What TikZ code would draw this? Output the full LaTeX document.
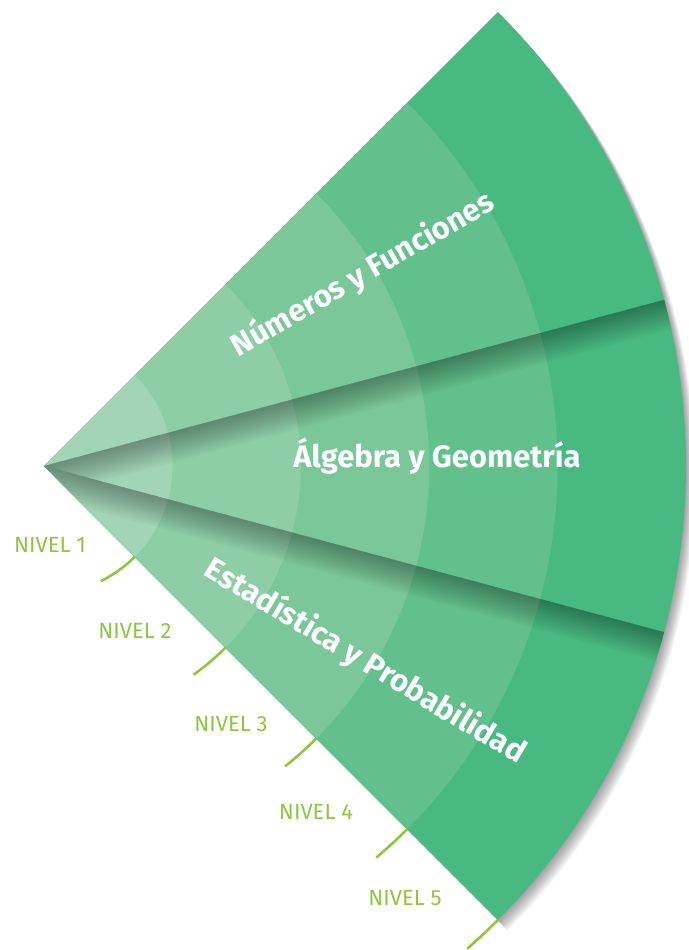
\documentclass[tikz,border=0pt]{standalone}
\usepackage{fontspec}
\setmainfont{Fira Sans}
\definecolor{ringA}{HTML}{A2D5B6}
\definecolor{ringB}{HTML}{8ECEA7}
\definecolor{ringC}{HTML}{7AC79A}
\definecolor{ringD}{HTML}{62C08C}
\definecolor{ringE}{HTML}{48BA81}
\definecolor{nivelgreen}{HTML}{8DC63F}
\begin{document}
\begin{tikzpicture}[x=1pt,y=1pt,line join=round,
    area/.style={text=white,font=\bfseries\fontsize{31}{31}\selectfont},
    nivel/.style={text=nivelgreen,font=\fontsize{22}{22}\selectfont},
    nivelmark/.style={draw=nivelgreen,line width=2.6pt}]
    \useasboundingbox (-44,-484) rectangle (644,466);
    % soft shadow of the fan
    \foreach \s in {1,...,12}
    \fill[black,opacity=0.035,shift={(0.8*\s,-0.9*\s)}] (0,0)--(-45:642) arc(-45:45:642)--cycle;
    % rings, outer first
    \foreach \k/\c in {5/ringE,4/ringD,3/ringC,2/ringB,1/ringA}
    \fill[\c] (0,0)--(-45:{128.4*\k}) arc(-45:45:{128.4*\k})--cycle;
    % shadows under the dividers
    \foreach \a in {15,-15}{
        \begin{scope}
            \clip (0,0)--({\a-30}:642) arc({\a-30}:\a:642)--cycle;
            \foreach \w in {2,4,...,30}
            \fill[black,opacity=0.024,rotate=\a] (0,0) rectangle (650,-\w);
        \end{scope}
    }
    \node[area,rotate=30] (numeros) at (31:372) {Números y Funciones};
    \node[area,anchor=base] (algebra) at (393,-2) {Álgebra y Geometría};
    \node[area,rotate=-31] (estadistica) at (-31.3:376) {Estadística y Probabilidad};
    % levels
    \foreach \k/\x/\y in {1/6/-79,2/91/-165,3/187/-258,4/272/-346,5/361/-432}{
        \node[nivel] (nivel\k) at (\x,\y) {NIVEL \k};
        \draw[nivelmark] (-45:{128.4*\k}) arc(-45:{-45-2406/(128.4*\k)}:{128.4*\k});
    }
\end{tikzpicture}
\end{document}
